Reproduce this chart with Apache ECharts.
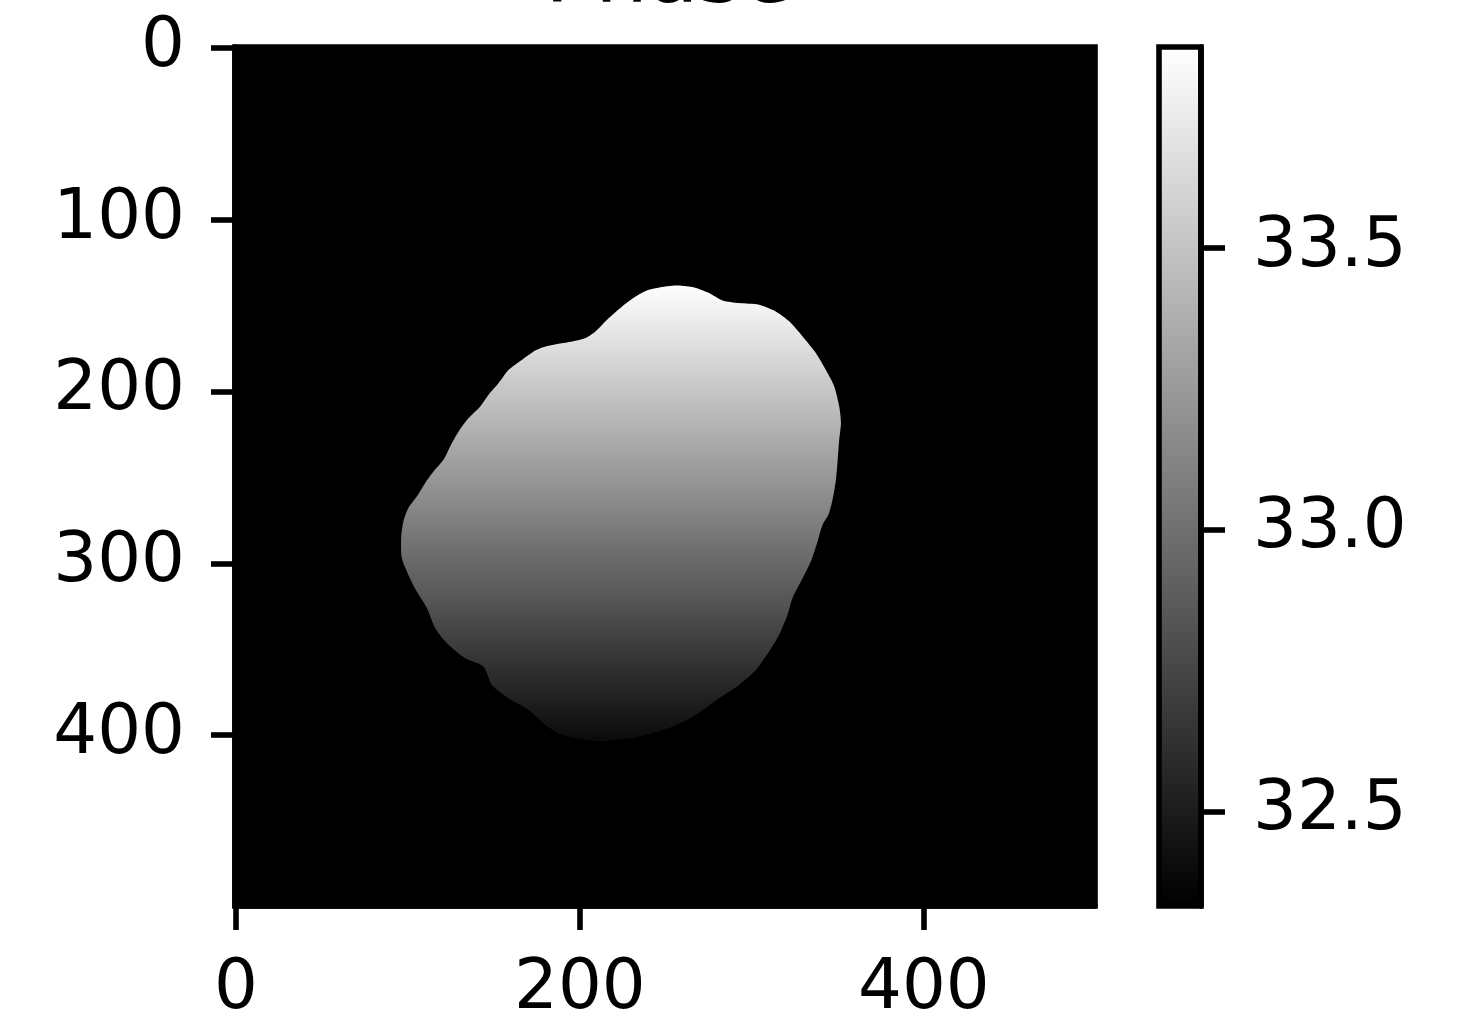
<!DOCTYPE html>
<html>
<head>
<meta charset="utf-8">
<style>
html,body{margin:0;padding:0;background:#fff;}
#chart{width:1465px;height:1019px;}
</style>
<script src="https://cdn.jsdelivr.net/npm/echarts@6/dist/echarts.min.js"></script>
</head>
<body>
<div id="chart"></div>
<script>
// ---- data ----
const titleText = 'Phase';
const xTicks = [0, 200, 400];
const yTicks = [0, 100, 200, 300, 400];
const cbTicks = [32.5, 33.0, 33.5];
const imageExtent = [-0.5, 499.5];
const phaseMin = 32.332;
const phaseMax = 33.856;
const backgroundPhase = 32.332;
// phase along image rows inside the object
const profileRows   = [138,   170,   200,   230,   260,   290,   320,   350,   380,   404];
const profileValues = [33.85, 33.68, 33.51, 33.35, 33.18, 33.01, 32.85, 32.68, 32.52, 32.39];
// outline of the object (column, row)
const outlineX = [253.8,265.4,275.1,282.9,292.5,304.2,313.9,321.7,329.5,337.2,343.0,347.9,350.8,351.8,350.8,349.9,348.9,346.9,344.5,
  341.1,338.2,334.3,329.5,323.6,320.7,315.8,310.0,302.3,292.5,280.9,267.3,253.8,234.3,214.9,203.3,189.7,180.0,170.2,158.6,148.9,
  144.0,133.4,123.6,115.9,111.1,105.2,100.3,96.5,96.1,97.4,100.3,105.2,110.1,114.9,120.7,124.6,129.5,135.3,142.1,146.9,152.8,
  158.6,166.4,174.1,180.0,187.7,195.5,203.3,209.1,216.8,224.6,232.4,240.1];
const outlineY = [138.4,139.2,142.7,147.0,148.5,149.5,153.4,159.2,168.0,177.6,187.4,197.1,208.7,218.4,228.1,239.8,251.4,263.1,271.8,
  277.6,287.4,299.0,308.7,320.3,330.1,341.7,351.4,362.1,370.8,378.6,388.3,395.1,400.9,403.5,402.7,399.9,394.1,385.4,378.6,370.8,
  360.2,355.3,347.5,337.8,326.2,316.5,306.8,297.0,285.4,275.7,267.9,261.2,253.3,246.6,239.8,232.0,223.3,215.5,208.7,201.9,195.1,
  187.4,181.5,176.1,173.8,172.2,170.9,168.9,165.1,157.3,150.5,144.7,140.8];

// ---- styling ----
const FONT = 'DejaVu Sans';
const LW = 5.6;
function gray(v) {
  let t = (v - phaseMin) / (phaseMax - phaseMin);
  t = Math.max(0, Math.min(1, t));
  const g = Math.round(t * 255);
  return 'rgb(' + g + ',' + g + ',' + g + ')';
}

const chart = echarts.init(document.getElementById('chart'), null, {renderer: 'canvas'});

const outlinePts = outlineX.map((x, i) => [x, outlineY[i]]);

const tickStyle = {show: true, inside: false, length: 24, lineStyle: {color: '#000', width: LW}};
const labelStyle = {fontFamily: FONT, fontSize: 69, color: '#000'};

const option = {
  backgroundColor: '#fff',
  animation: false,
  title: {
    text: titleText, left: 664, top: -66, textAlign: 'center',
    textStyle: {fontFamily: FONT, fontSize: 83, fontWeight: 'normal', color: '#000'}
  },
  grid: [
    {left: 235, top: 47, width: 860, height: 859, show: true, z: 10, outerBoundsMode: 'none', containLabel: false,
     borderColor: '#000', borderWidth: LW, backgroundColor: 'transparent'},
    {left: 1159, top: 47, width: 42, height: 859, show: true, z: 10, outerBoundsMode: 'none', containLabel: false,
     borderColor: '#000', borderWidth: LW, backgroundColor: 'transparent'}
  ],
  xAxis: [
    {type: 'value', gridIndex: 0, min: imageExtent[0], max: imageExtent[1], position: 'bottom', z: 10,
     axisLine: {show: true, onZero: false, lineStyle: {color: '#000', width: LW}},
     axisTick: Object.assign({customValues: xTicks}, tickStyle),
     axisLabel: Object.assign({customValues: xTicks, margin: 50, formatter: v => String(v)}, labelStyle),
     splitLine: {show: false}},
    {type: 'value', gridIndex: 1, min: 0, max: 1, show: false}
  ],
  yAxis: [
    {type: 'value', gridIndex: 0, inverse: true, min: imageExtent[0], max: imageExtent[1], position: 'left', z: 10,
     axisLine: {show: true, onZero: false, lineStyle: {color: '#000', width: LW}},
     axisTick: Object.assign({customValues: yTicks}, tickStyle),
     axisLabel: Object.assign({customValues: yTicks, margin: 50, padding: [8, 0, 0, 0], formatter: v => String(v)}, labelStyle),
     splitLine: {show: false}},
    {type: 'value', gridIndex: 1, min: phaseMin, max: phaseMax, position: 'right', z: 10,
     axisLine: {show: true, onZero: false, lineStyle: {color: '#000', width: LW}},
     axisTick: Object.assign({customValues: cbTicks}, tickStyle),
     axisLabel: Object.assign({customValues: cbTicks, margin: 52, padding: [8, 0, 0, 0], formatter: v => v.toFixed(1)}, labelStyle),
     splitLine: {show: false}}
  ],
  series: [
    { // background of the image
      type: 'custom', xAxisIndex: 0, yAxisIndex: 0, clip: true, z: 1,
      data: [[imageExtent[0], imageExtent[0], imageExtent[1], imageExtent[1], backgroundPhase]],
      renderItem: function (params, api) {
        const p0 = api.coord([api.value(0), api.value(1)]);
        const p1 = api.coord([api.value(2), api.value(3)]);
        return {type: 'rect',
          shape: {x: Math.min(p0[0], p1[0]), y: Math.min(p0[1], p1[1]), width: Math.abs(p1[0] - p0[0]), height: Math.abs(p1[1] - p0[1])},
          style: {fill: gray(api.value(4))}};
      }
    },
    { // the object, shaded by phase along rows
      type: 'custom', xAxisIndex: 0, yAxisIndex: 0, clip: true, z: 2,
      data: outlinePts,
      renderItem: function (params, api) {
        if (params.dataIndex !== 0) return null;
        const pts = outlinePts.map(p => api.coord(p));
        const yTop = api.coord([0, profileRows[0]])[1];
        const yBot = api.coord([0, profileRows[profileRows.length - 1]])[1];
        const stops = profileRows.map((r, i) => ({
          offset: (r - profileRows[0]) / (profileRows[profileRows.length - 1] - profileRows[0]),
          color: gray(profileValues[i])
        }));
        return {type: 'polygon', shape: {points: pts, smooth: 0.25},
          style: {fill: {type: 'linear', x: 0, y: yTop, x2: 0, y2: yBot, global: true, colorStops: stops}}};
      }
    },
    { // colorbar
      type: 'custom', xAxisIndex: 1, yAxisIndex: 1, clip: true, z: 1,
      data: [[0, phaseMin, 1, phaseMax]],
      renderItem: function (params, api) {
        const p0 = api.coord([api.value(0), api.value(1)]);
        const p1 = api.coord([api.value(2), api.value(3)]);
        return {type: 'rect',
          shape: {x: p0[0], y: p1[1], width: p1[0] - p0[0], height: p0[1] - p1[1]},
          style: {fill: {type: 'linear', x: 0, y: p1[1], x2: 0, y2: p0[1], global: true,
            colorStops: [{offset: 0, color: gray(phaseMax)}, {offset: 1, color: gray(phaseMin)}]}}};
      }
    }
  ]
};
chart.setOption(option);
</script>
</body>
</html>
